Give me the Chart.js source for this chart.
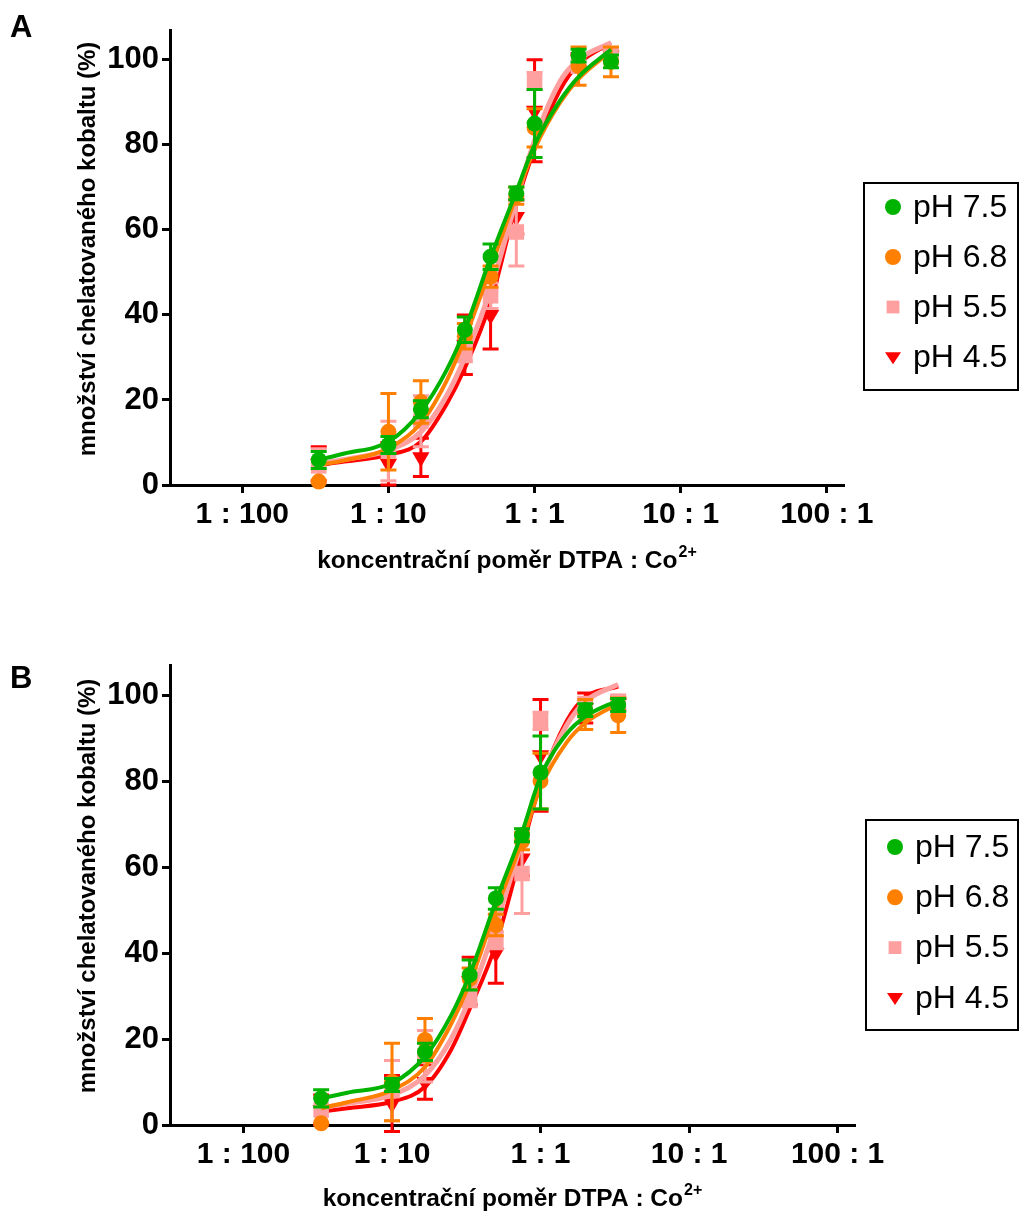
<!DOCTYPE html>
<html>
<head>
<meta charset="utf-8">
<script src="https://cdn.jsdelivr.net/npm/chart.js"></script>
<style>
  body { margin: 0; background: #fff; }
  .panel { position: absolute; left: 0; width: 1020px; }
</style>
</head>
<body>
<div class="panel" style="top:0;height:600px"><canvas id="chartA"></canvas></div>
<div class="panel" style="top:620px;height:593px"><canvas id="chartB"></canvas></div>

<script>
// ratio DTPA : Co (x values of the measured points)
const ratios = [1/30, 1/10, 1/6, 1/3, 1/2, 3/4, 1, 2, 10/3];
const curveX = [1/30, 1/20, 1/10, 1/6, 1/4, 1/3, 1/2, 3/4, 1, 1.5, 2, 10/3];

const seriesNames = ['pH 7.5', 'pH 6.8', 'pH 5.5', 'pH 4.5'];
const seriesColors = ['#00b300', '#ff8000', '#ffa0a0', '#ff0000'];
const markerStyles = ['circle', 'circle', 'rect', 'triangle'];

const xTickValues = [0.01, 0.1, 1, 10, 100];
const xTickLabels = ['1 : 100', '1 : 10', '1 : 1', '10 : 1', '100 : 1'];
const yTickValues = [0, 20, 40, 60, 80, 100];

// panel A - means and SD
const meanA_75 = [5.9, 9.4, 17.8, 36.5, 53.7, 68.6, 85, 101, 99.6];
const errA_75  = [2, 2, 2, 3, 3, 1.5, 8, 1.5, 1.5];
const meanA_68 = [0.8, 12.5, 19.5, 35, 49, 68, 84, 98.5, 99.5];
const errA_68  = [0, 9, 5, 3, 2.5, 2, 4.5, 4.5, 3.5];
const meanA_55 = [4.5, 8, 15, 31, 44.5, 59.5, 95, 99, 101];
const errA_55  = [4, 7, 6, 2, 3, 8, 2, 2, 1.5];
const meanA_45 = [5, 5, 6.5, 33, 40, 63, 88, 100, 101];
const errA_45  = [4, 5, 4.5, 7, 8, 4, 12, 1.5, 1];

// panel A - fitted curves
const fitA_75 = [5.9, 7.4, 10.2, 17.3, 27, 36.5, 53.5, 69, 80, 90.5, 96, 102.4];
const fitA_68 = [4.7, 5.8, 8.6, 14.5, 24.5, 34.5, 51, 68, 79, 90, 95.5, 102];
const fitA_55 = [5, 6, 8.2, 12.5, 21, 30, 46, 67, 81, 95, 100, 104];
const fitA_45 = [4.7, 5.5, 7.1, 10.2, 19, 27.5, 43, 66, 79, 93, 99, 104];

// panel B - means and SD
const meanB_75 = [6.2, 9.3, 17, 34.9, 52.7, 67.4, 82, 96.5, 97.7];
const errB_75  = [2, 1.5, 2, 3.5, 2.5, 1.5, 8.5, 1.5, 1.5];
const meanB_68 = [0.4, 10, 19.8, 34, 46.5, 66, 80, 95.5, 95.3];
const errB_68  = [0, 9, 5, 2.5, 2.5, 2, 6.5, 3.5, 4];
const meanB_55 = [3.5, 8, 16, 29.5, 43, 58.5, 94, 97.5, 98.5];
const errB_55  = [3, 7, 6, 2, 2, 9.3, 2, 2, 1.5];
const meanB_45 = [3.5, 5, 10, 33.5, 40, 62, 86, 97, 98];
const errB_45  = [3.5, 6.5, 4, 5.5, 7, 4, 13, 3.5, 1.5];

// panel B - fitted curves
const fitB_75 = [6.2, 7.5, 9.7, 15.9, 25.5, 35, 52, 68, 81, 91, 95, 98.8];
const fitB_68 = [3.9, 5.3, 8.1, 13.5, 23.5, 33, 50, 66, 78.5, 89, 93.5, 98];
const fitB_55 = [4, 5, 7, 11.5, 20, 29.5, 46.5, 66, 80, 93, 98.5, 102.5];
const fitB_45 = [3.1, 3.9, 5.4, 8.9, 17.5, 27, 42, 64, 79.5, 94, 99.5, 102];

const yTitle = 'množství chelatovaného kobaltu (%)';
const xTitle = 'koncentrační poměr DTPA : Co';
const xTitleSup = '2+';

const FONT = "'Liberation Sans', Arial, sans-serif";
Chart.defaults.font.family = FONT;
Chart.defaults.color = '#000';

function drawMarker(ctx, style, x, y, r) {
    ctx.beginPath();
    if (style == 'rect') {
        ctx.rect(x - r * 0.8, y - r * 0.8, r * 1.6, r * 1.6);
    } else if (style == 'triangle') {
        ctx.moveTo(x - r, y - r * 0.6);
        ctx.lineTo(x + r, y - r * 0.6);
        ctx.lineTo(x, y + r * 0.9);
        ctx.closePath();
    } else {
        ctx.arc(x, y, r, 0, Math.PI * 2);
    }
    ctx.fill();
}

// error bars, drawn just under the markers of each data set
const errorBars = {
    id: 'errorBars',
    beforeDatasetDraw(chart, args) {
        const ds = chart.data.datasets[args.index];
        if (!ds.errors) return;
        const ctx = chart.ctx;
        const x = chart.scales.x, y = chart.scales.y;
        ctx.save();
        ctx.strokeStyle = ds.borderColor;
        ctx.lineWidth = 3;
        ds.data.forEach((p, k) => {
            const e = ds.errors[k];
            if (!e) return;
            const px = x.getPixelForValue(p.x);
            const top = y.getPixelForValue(p.y + e);
            const bot = y.getPixelForValue(p.y - e);
            ctx.beginPath();
            ctx.moveTo(px, top); ctx.lineTo(px, bot);
            ctx.moveTo(px - 8, top); ctx.lineTo(px + 8, top);
            ctx.moveTo(px - 8, bot); ctx.lineTo(px + 8, bot);
            ctx.stroke();
        });
        ctx.restore();
    }
};

// panel letter, axis titles and boxed legend
const panelText = {
    id: 'panelText',
    afterDraw(chart, args, o) {
        const ctx = chart.ctx;
        const area = chart.chartArea;
        ctx.save();
        ctx.fillStyle = '#000';

        ctx.font = 'bold 31px ' + FONT;
        ctx.textAlign = 'left';
        ctx.textBaseline = 'alphabetic';
        ctx.fillText(o.letter, 10, o.letterY);

        ctx.save();
        ctx.translate(o.yTitleX, o.yTitleY);
        ctx.rotate(-Math.PI / 2);
        ctx.font = 'bold 24px ' + FONT;
        ctx.textAlign = 'center';
        ctx.textBaseline = 'middle';
        ctx.fillText(yTitle, 0, 0);
        ctx.restore();

        // x title with superscript
        ctx.font = 'bold 24.5px ' + FONT;
        const w1 = ctx.measureText(xTitle).width;
        ctx.font = 'bold 16px ' + FONT;
        const w2 = ctx.measureText(xTitleSup).width;
        const cx = (area.left + area.right) / 2;
        const sx = cx - (w1 + w2) / 2;
        ctx.font = 'bold 24.5px ' + FONT;
        ctx.fillText(xTitle, sx, o.xTitleY);
        ctx.font = 'bold 16px ' + FONT;
        ctx.fillText(xTitleSup, sx + w1 + 1, o.xTitleY - 11);

        // legend
        const L = o.legend;
        ctx.strokeStyle = '#000';
        ctx.lineWidth = 2;
        ctx.strokeRect(L.left, L.top, L.width, L.height);
        ctx.font = '32px ' + FONT;
        ctx.textBaseline = 'middle';
        seriesNames.forEach((name, i) => {
            const iy = L.top + L.first + i * L.step;
            ctx.fillStyle = seriesColors[i];
            drawMarker(ctx, markerStyles[i], L.left + 29, iy, 8);
            ctx.fillStyle = '#000';
            ctx.fillText(name, L.left + 49, iy + 1);
        });
        ctx.restore();
    }
};

function buildChart(id, means, errs, fits, cfg) {
    const datasets = [];
    for (let i = 0; i < 4; i++) {
        datasets.push({
            label: seriesNames[i] + ' fit',
            data: curveX.map((x, k) => ({ x: x, y: fits[i][k] })),
            showLine: true,
            pointRadius: 0,
            borderColor: seriesColors[i],
            borderWidth: i == 2 ? 5 : 4,
            cubicInterpolationMode: 'monotone',
            clip: false,
            order: 2 * i
        });
        datasets.push({
            label: seriesNames[i],
            data: ratios.map((x, k) => ({ x: x, y: means[i][k] })),
            errors: errs[i],
            showLine: false,
            pointStyle: markerStyles[i],
            pointRotation: markerStyles[i] == 'triangle' ? 180 : 0,
            pointRadius: markerStyles[i] == 'rect' ? 11 : (markerStyles[i] == 'triangle' ? 10 : 8),
            pointBorderWidth: 0,
            backgroundColor: seriesColors[i],
            borderColor: seriesColors[i],
            clip: false,
            order: 2 * i + 1
        });
    }

    return new Chart(document.getElementById(id), {
        type: 'scatter',
        data: { datasets: datasets },
        options: {
            responsive: true,
            maintainAspectRatio: false,
            animation: false,
            layout: { padding: { top: cfg.top, right: cfg.right, left: 0, bottom: 0 } },
            plugins: {
                legend: { display: false },
                tooltip: { enabled: false },
                panelText: cfg.text
            },
            scales: {
                x: {
                    type: 'logarithmic',
                    min: 0.0032,
                    max: 129,
                    afterBuildTicks: s => { s.ticks = xTickValues.map(v => ({ value: v })); },
                    afterFit: s => { s.height = cfg.xHeight; },
                    ticks: {
                        callback: (v, i) => xTickLabels[i],
                        font: { size: 30, weight: 'bold' },
                        padding: 4,
                        maxRotation: 0,
                        autoSkip: false
                    },
                    grid: { drawOnChartArea: false, tickLength: 8, lineWidth: 3, color: '#000' },
                    border: { display: true, width: 3, color: '#000' }
                },
                y: {
                    min: 0,
                    max: 107,
                    afterBuildTicks: s => { s.ticks = yTickValues.map(v => ({ value: v })); },
                    afterFit: s => { s.width = 170; },
                    ticks: {
                        font: { size: 31, weight: 'bold' },
                        padding: 3
                    },
                    grid: { drawOnChartArea: false, tickLength: 8, lineWidth: 3, color: '#000' },
                    border: { display: true, width: 3, color: '#000' }
                }
            }
        },
        plugins: [errorBars, panelText]
    });
}

buildChart('chartA',
    [meanA_75, meanA_68, meanA_55, meanA_45],
    [errA_75, errA_68, errA_55, errA_45],
    [fitA_75, fitA_68, fitA_55, fitA_45],
    {
        top: 30, right: 177, xHeight: 115,
        text: {
            letter: 'A', letterY: 37,
            yTitleX: 88, yTitleY: 249,
            xTitleY: 568,
            legend: { left: 864, top: 183, width: 154, height: 207, first: 24, step: 50 }
        }
    });

buildChart('chartB',
    [meanB_75, meanB_68, meanB_55, meanB_45],
    [errB_75, errB_68, errB_55, errB_45],
    [fitB_75, fitB_68, fitB_55, fitB_45],
    {
        top: 45, right: 166, xHeight: 88,
        text: {
            letter: 'B', letterY: 68,
            yTitleX: 88, yTitleY: 266,
            xTitleY: 586,
            legend: { left: 866, top: 200, width: 152, height: 210, first: 27, step: 50.3 }
        }
    });
</script>
</body>
</html>
